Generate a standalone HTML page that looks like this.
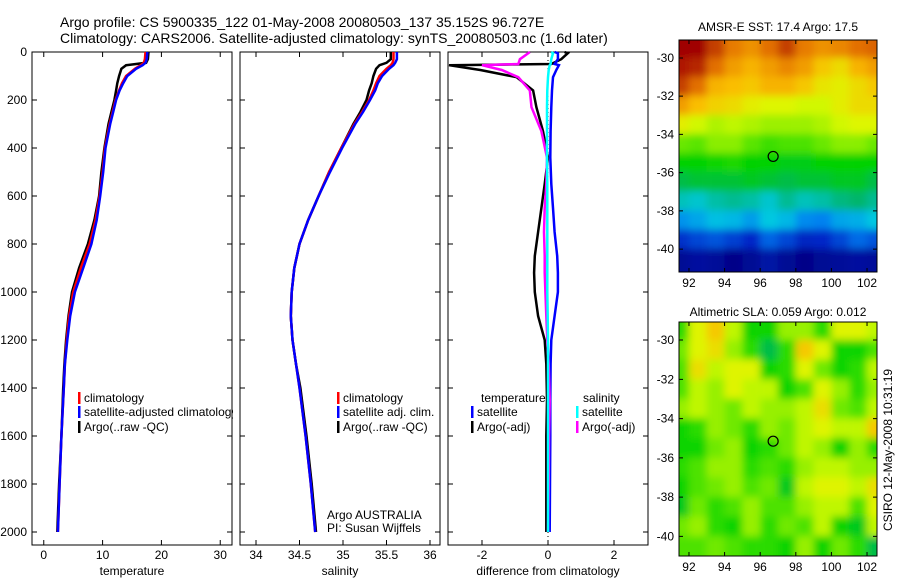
<!DOCTYPE html>
<html><head><meta charset="utf-8"><style>
body{margin:0;background:#fff;}
svg{display:block;font-family:"Liberation Sans",sans-serif;}
</style></head><body>
<svg id="c" width="900" height="580" viewBox="0 0 900 580">
<defs>
<clipPath id="cm1"><rect x="679" y="40" width="198" height="232"/></clipPath>
<clipPath id="cm2"><rect x="679" y="322" width="198" height="234"/></clipPath>
<filter id="bl" x="-20%" y="-20%" width="140%" height="140%"><feGaussianBlur stdDeviation="4"/></filter>
</defs>
<text x="60" y="27" font-size="14">Argo profile: CS 5900335_122 01-May-2008 20080503_137 35.152S 96.727E</text>
<text x="60" y="43" font-size="14">Climatology: CARS2006. Satellite-adjusted climatology: synTS_20080503.nc (1.6d later)</text>
<text x="778" y="31" font-size="12" text-anchor="middle">AMSR-E SST: 17.4 Argo: 17.5</text>
<text x="778" y="316" font-size="12" text-anchor="middle">Altimetric SLA: 0.059 Argo: 0.012</text>
<text transform="translate(892,450) rotate(-90)" font-size="12" text-anchor="middle">CSIRO 12-May-2008 10:31:19</text>
</svg>
<script>
// ---- data ----
const depthT=[0,30,45,55,70,100,130,160,200,250,300,400,500,600,700,800,900,1000,1100,1200,1300,1400,1600,1800,2000];
const climT=[17.3,17.2,17.0,16.5,15.5,14.0,13.3,12.8,12.2,11.7,11.2,10.4,10.0,9.5,8.8,7.8,6.3,5.0,4.3,3.9,3.6,3.4,3.0,2.7,2.4];
const satT=[17.6,17.5,17.3,16.8,15.7,14.2,13.5,12.9,12.3,11.8,11.3,10.5,10.1,9.6,9.0,8.1,6.7,5.3,4.5,4.0,3.6,3.4,3.0,2.7,2.4];
const argoT=[17.8,17.7,17.4,14.0,13.2,12.8,12.5,12.3,12.0,11.5,11.0,10.3,9.8,9.4,8.6,7.5,6.0,4.8,4.2,3.8,3.5,3.3,3.0,2.6,2.3];
const climS=[35.58,35.58,35.57,35.55,35.5,35.42,35.38,35.35,35.3,35.22,35.13,34.98,34.84,34.72,34.6,34.5,34.44,34.41,34.40,34.42,34.46,34.5,34.57,34.63,34.68];
const satS=[35.62,35.62,35.6,35.58,35.53,35.45,35.4,35.37,35.31,35.23,35.14,34.99,34.85,34.72,34.6,34.5,34.44,34.41,34.40,34.42,34.46,34.5,34.57,34.63,34.68];
const argoS=[35.55,35.55,35.5,35.42,35.38,35.35,35.33,35.3,35.27,35.2,35.12,34.98,34.84,34.72,34.6,34.5,34.44,34.41,34.40,34.42,34.46,34.51,34.58,34.64,34.69];
const depthD=[0,5,30,50,55,75,105,160,230,330,440,550,650,750,850,920,1000,1100,1200,1300,1450,1600,1800,2000];
const argoTdiff=[0.5,0.6,0.4,0.1,-3.0,-2.05,-0.95,-0.45,-0.35,-0.15,0,-0.1,-0.2,-0.3,-0.4,-0.42,-0.4,-0.3,-0.1,-0.05,-0.03,-0.05,-0.05,-0.05];
const argoSdiff=[-0.55,-0.6,-0.85,-0.9,-2.0,-1.4,-0.9,-0.55,-0.5,-0.2,-0.03,-0.05,-0.1,-0.12,-0.1,-0.1,-0.08,-0.05,-0.02,0.02,0.05,0.03,0.02,0];
const satTdiff=[0.2,0.3,0.3,0.2,0.33,0.25,0.15,0.12,0.1,0.08,0.07,0.1,0.15,0.2,0.28,0.3,0.3,0.2,0.1,0.08,0.07,0.07,0.06,0.05];
const satSdiff=[0.1,0.15,0.1,0.08,0.05,0.02,0.0,-0.02,-0.03,-0.03,-0.03,-0.02,-0.02,-0.02,-0.02,-0.02,-0.02,-0.01,0,0,0,0,0,0];
const depthTicks=[0,200,400,600,800,1000,1200,1400,1600,1800,2000];
const tempTicks=[0,10,20,30];
const salTicks=[34,34.5,35,35.5,36];
const diffTicks=[-2,0,2];
const latTicks=[-30,-32,-34,-36,-38,-40];
const lonTicks=[92,94,96,98,100,102];
const mapLons=[91.5,92.5,93.5,94.5,95.5,96.5,97.5,98.5,99.5,100.5,101.5,102.5];
const mapLats=[-29.5,-30.5,-31.5,-32.5,-33.5,-34.5,-35.5,-36.5,-37.5,-38.5,-39.5,-40.5];
const sstGrid=[
[20.5,20.5,20.0,19.5,19.3,19.6,20.0,19.5,19.3,19.4,19.6,19.7],
[20.3,20.2,19.6,19.2,19.0,19.2,19.4,19.2,18.8,18.6,19.0,19.2],
[20.0,19.6,19.0,18.9,18.8,19.0,19.0,18.8,18.5,18.4,18.6,18.8],
[19.2,18.9,18.7,18.6,18.4,18.3,18.3,18.2,18.2,18.4,18.6,18.6],
[18.4,18.2,18.0,18.1,18.0,17.9,17.9,17.9,18.0,18.2,18.3,18.3],
[17.6,17.5,17.8,17.8,17.5,17.3,17.4,17.4,17.6,17.8,17.8,17.6],
[16.9,16.9,17.0,17.1,16.9,16.9,16.8,16.8,16.9,16.9,16.9,16.9],
[16.5,16.6,16.6,16.6,16.7,16.6,16.5,16.6,16.6,16.7,16.7,16.5],
[15.9,15.8,16.0,16.1,16.0,15.8,16.1,15.9,16.0,16.2,16.3,16.1],
[15.1,15.3,15.6,15.5,15.2,15.7,15.5,15.0,14.9,15.3,15.4,15.7],
[13.8,14.1,14.3,14.0,13.7,14.5,14.1,13.6,13.7,14.1,14.6,14.3],
[12.8,13.0,12.9,12.6,12.8,13.1,12.8,12.6,12.8,12.9,13.0,12.9]];
const slaGrid=[
[-0.04,0.06,0.10,0.04,-0.06,-0.06,0.02,0.02,-0.04,0.06,0.06,0.04],
[0.0,0.06,0.08,0.02,-0.04,-0.10,-0.04,0.10,0.06,-0.06,-0.06,-0.02],
[-0.02,0.08,0.04,0.06,0.06,-0.06,-0.04,0.06,0.0,-0.06,-0.04,0.04],
[-0.02,0.04,0.02,0.06,0.04,0.04,-0.06,-0.02,0.06,0.02,-0.04,0.02],
[0.02,0.04,0.02,0.0,0.04,0.02,0.02,0.04,0.08,0.0,-0.02,0.04],
[-0.06,-0.04,0.02,0.0,-0.04,0.02,0.0,0.04,0.06,0.04,0.04,0.10],
[-0.06,-0.06,0.0,0.02,-0.06,-0.04,0.0,0.04,0.02,-0.06,0.02,-0.04],
[-0.04,-0.02,0.02,0.02,-0.04,-0.02,-0.04,0.02,0.04,0.04,0.02,0.02],
[-0.06,-0.02,0.0,0.02,-0.02,0.0,-0.08,0.04,0.06,0.06,0.04,0.08],
[-0.08,0.0,-0.04,-0.02,0.02,-0.02,-0.02,0.02,0.04,0.04,-0.02,0.06],
[0.0,0.02,-0.04,-0.06,0.02,-0.04,0.0,-0.02,0.04,-0.06,-0.08,0.04],
[-0.02,-0.02,0.0,-0.02,-0.04,-0.04,-0.06,0.02,-0.06,0.0,-0.04,-0.1]];
const argoLon=96.727, argoLat=-35.152;

const NS='http://www.w3.org/2000/svg';
const svg=document.getElementById('c');
function mk(tag,attrs,parent){const e=document.createElementNS(NS,tag);for(const k in attrs)e.setAttribute(k,attrs[k]);(parent||svg).appendChild(e);return e;}
const PT=52,PB=545;
const yD=d=>PT+d*0.24;
const panels=[
 {x0:32,x1:232,min:-2,max:32,ticks:tempTicks,label:'temperature',name:'temperature'},
 {x0:240,x1:440,min:33.816,max:36.115,ticks:salTicks,label:'salinity',name:'salinity'},
 {x0:448,x1:648,min:-3.03,max:3.03,ticks:diffTicks,label:'difference from climatology',name:'difference'}];
panels.forEach(p=>{p.sx=v=>p.x0+(v-p.min)/(p.max-p.min)*(p.x1-p.x0);});
panels.forEach((p,i)=>{
 const r=mk('rect',{x:p.x0,y:PT,width:p.x1-p.x0,height:PB-PT,fill:'#fff',stroke:'#000','stroke-width':1});
 
 
 depthTicks.forEach(d=>{
  const y=yD(d);
  const t=mk('path',{d:`M${p.x0},${y}h5M${p.x1},${y}h-5`,stroke:'#000'});
  
  
  if(i===0){const l=mk('text',{x:p.x0-5,y:y+4,'font-size':12,'text-anchor':'end'});l.textContent=d;
   
   }
 });
 p.ticks.forEach(v=>{
  const x=p.sx(v);
  const t=mk('path',{d:`M${x},${PB}v-5M${x},${PT}v5`,stroke:'#000'});
  
  
  const l=mk('text',{x:x,y:PB+14,'font-size':12,'text-anchor':'middle'});l.textContent=v;
  
  
 });
 const al=mk('text',{x:(p.x0+p.x1)/2,y:575,'font-size':12,'text-anchor':'middle'});al.textContent=p.label;
 
 
});
function line(p,depths,vals,color,w,name){
 const pts=depths.map((d,k)=>p.sx(vals[k]).toFixed(1)+','+yD(d).toFixed(1)).join(' ');
 const e=mk('polyline',{points:pts,fill:'none',stroke:color,'stroke-width':w,'stroke-linejoin':'miter'});
 
 
}
const z=panels[2].sx(0);
const zl=mk('line',{x1:z,x2:z,y1:PT,y2:PB,stroke:'#000','stroke-dasharray':'1,3'});


line(panels[0],depthT,argoT,'#000',2.5,'argo-temperature-line');
line(panels[0],depthT,climT,'#f00',2.5,'climatology-temperature-line');
line(panels[0],depthT,satT,'#00f',2.5,'satellite-temperature-line');
line(panels[1],depthT,argoS,'#000',2.5,'argo-salinity-line');
line(panels[1],depthT,climS,'#f00',2.5,'climatology-salinity-line');
line(panels[1],depthT,satS,'#00f',2.5,'satellite-salinity-line');
line(panels[2],depthD,argoTdiff,'#000',2.5,'argo-temperature-diff-line');
line(panels[2],depthD,satTdiff,'#00f',2.5,'satellite-temperature-diff-line');
line(panels[2],depthD,argoSdiff,'#f0f',2.5,'argo-salinity-diff-line');
line(panels[2],depthD,satSdiff,'#0ff',2.5,'satellite-salinity-diff-line');
function leg(x,y,color,text,name){
 const b=mk('rect',{x:x,y:y-10,width:2.5,height:12,fill:color});
 
 
 if(text){const t=mk('text',{x:x+6,y:y,'font-size':12});t.textContent=text;
 
 }
}
leg(78,402,'#f00','climatology','legend-climatology');
leg(78,416,'#00f','satellite-adjusted climatology','legend-satellite-adjusted');
leg(78,431,'#000','Argo(..raw -QC)','legend-argo');
leg(337,402,'#f00','climatology','legend-sal-climatology');
leg(337,416,'#00f','satellite adj. clim.','legend-sal-satellite');
leg(337,431,'#000','Argo(..raw -QC)','legend-sal-argo');
let t=mk('text',{x:481,y:402,'font-size':12});t.textContent='temperature';


t=mk('text',{x:583,y:402,'font-size':12});t.textContent='salinity';


leg(471,416,'#00f','satellite','legend-temp-satellite');
leg(471,431,'#000','Argo(-adj)','legend-temp-argo');
leg(576,416,'#0ff','satellite','legend-sal-satellite-diff');
leg(576,431,'#f0f','Argo(-adj)','legend-sal-argo-diff');
t=mk('text',{x:327,y:519,'font-size':12});t.textContent='Argo AUSTRALIA';


t=mk('text',{x:327,y:532,'font-size':12});t.textContent='PI: Susan Wijffels';


const mask=mk('rect',{x:233,y:405,width:6,height:15,fill:'#fff'});


const cstops=[[0,0,0,130],[0.15,0,40,200],[0.3,0,130,240],[0.4,0,200,225],[0.48,0,180,100],[0.55,0,210,0],[0.65,120,235,0],[0.72,220,250,0],[0.8,250,190,0],[0.88,230,120,0],[1,160,0,0]];
function cmap(t){t=Math.max(0,Math.min(1,t));
 for(let i=1;i<cstops.length;i++){if(t<=cstops[i][0]){const a=cstops[i-1],b=cstops[i],f=(t-a[0])/(b[0]-a[0]);
  return `rgb(${Math.round(a[1]+f*(b[1]-a[1]))},${Math.round(a[2]+f*(b[2]-a[2]))},${Math.round(a[3]+f*(b[3]-a[3]))})`;}}
 return 'rgb(160,0,0)';}
function drawMap(y0,y1,latTop,latBot,grid,vmin,vmax,clip,name){
 const x0=679,x1=877,lonL=91.44,lonR=102.56;
 const sx=v=>x0+(v-lonL)/(lonR-lonL)*(x1-x0);
 const sy=v=>y0+(latTop-v)/(latTop-latBot)*(y1-y0);
 const g=mk('g',{'clip-path':`url(#${clip})`});
 const gi=mk('g',{filter:'url(#bl)'},g);
 const nr=grid.length,nc=grid[0].length;
 grid.forEach((row,i)=>row.forEach((v,j)=>{
  const cx=sx(mapLons[j]),cy=sy(mapLats[i]);
  let x=cx-9,y=cy-10,w=18,h=20;
  if(j===0){x-=20;w+=20;} if(j===nc-1){w+=20;}
  if(i===0){y-=20;h+=20;} if(i===nr-1){h+=20;}
  const r=mk('rect',{x:x,y:y,width:w,height:h,fill:cmap((v-vmin)/(vmax-vmin))},gi);
  
  
 }));
 const b=mk('rect',{x:x0,y:y0,width:x1-x0,height:y1-y0,fill:'none',stroke:'#000'});
 
 
 latTicks.forEach(v=>{const y=sy(v);
  const tk=mk('path',{d:`M${x0},${y}h4M${x1},${y}h-4`,stroke:'#000'});
  
  
  const l=mk('text',{x:x0-5,y:y+4,'font-size':12,'text-anchor':'end'});l.textContent=v;
  
  });
 lonTicks.forEach(v=>{const x=sx(v);
  const tk=mk('path',{d:`M${x},${y1}v-4M${x},${y0}v4`,stroke:'#000'});
  
  
  const l=mk('text',{x:x,y:y1+15,'font-size':12,'text-anchor':'middle'});l.textContent=v;
  
  });
 const c=mk('circle',{cx:sx(argoLon),cy:sy(argoLat),r:5,fill:'none',stroke:'#000','stroke-width':1.2});
 
 
}
drawMap(40,272,-29.06,-41.2,sstGrid,12.5,20.5,'cm1','sst-map');
drawMap(322,556,-29.08,-41.0,slaGrid,-0.45,0.25,'cm2','sla-map');
</script>
</body></html>
